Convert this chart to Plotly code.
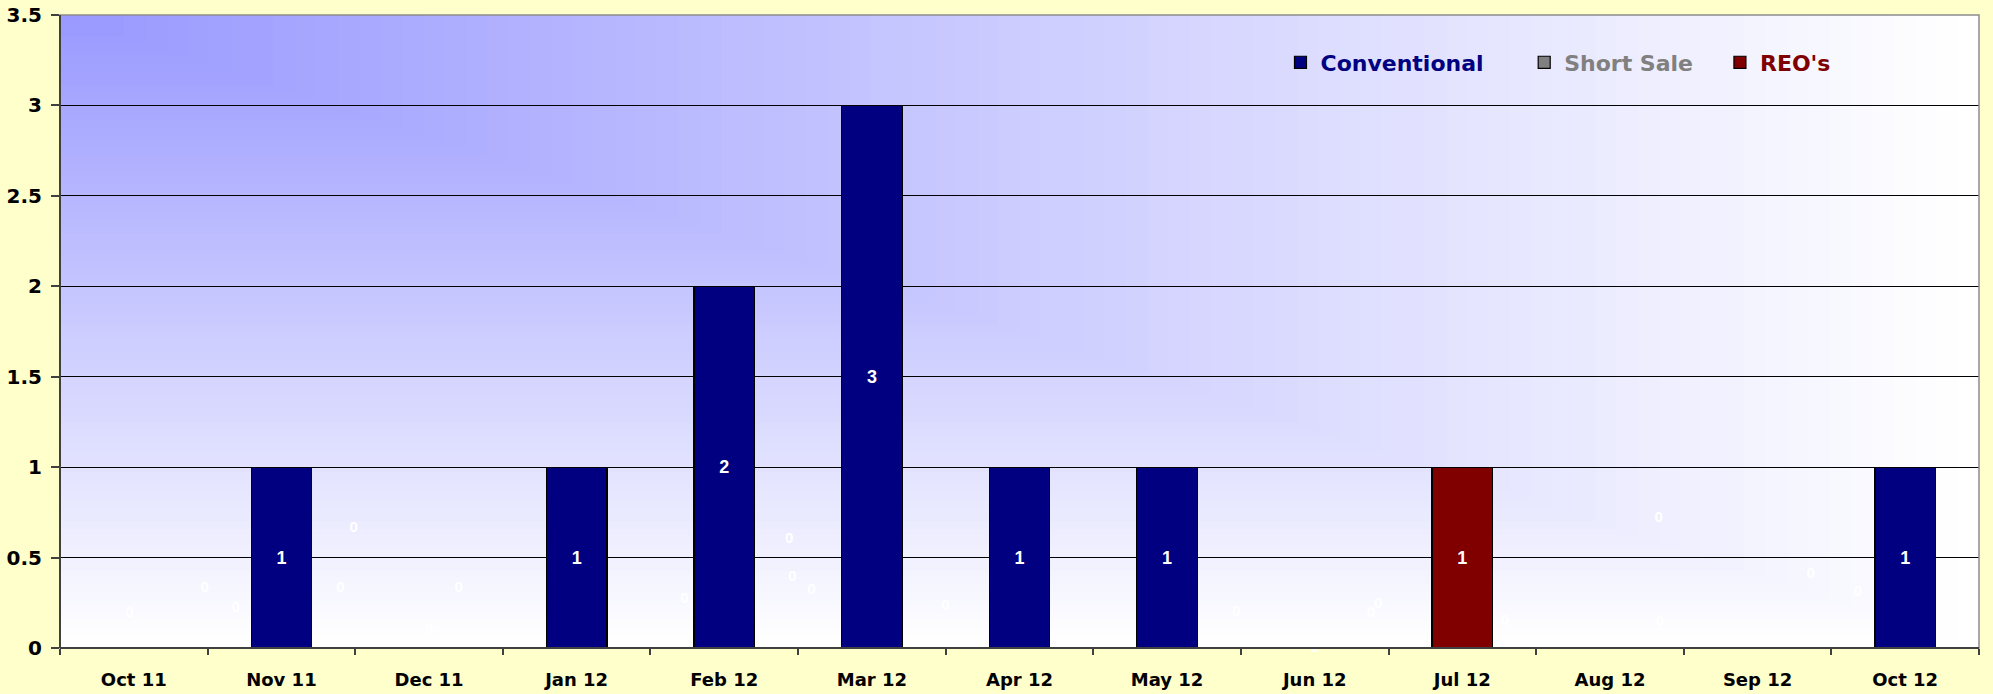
import plotly.graph_objects as go

# ---------------- data ----------------
months = ["Oct 11", "Nov 11", "Dec 11", "Jan 12", "Feb 12", "Mar 12", "Apr 12",
          "May 12", "Jun 12", "Jul 12", "Aug 12", "Sep 12", "Oct 12"]
conventional = [0, 1, 0, 1, 2, 3, 1, 1, 0, 0, 0, 0, 1]
short_sale = [0, 0, 0, 0, 0, 0, 0, 0, 0, 0, 0, 0, 0]
reos = [0, 0, 0, 0, 0, 0, 0, 0, 0, 1, 0, 0, 0]

# stray "0" data labels scattered by the original spreadsheet (category units, value units)
zero_label_x = [-0.03, 0.48, 0.69, 1.49, 1.40, 2.20, 2.00, 2.62, 3.73, 4.44, 4.46, 4.59,
                5.50, 5.43, 6.44, 7.47, 7.54, 8.00, 8.38, 8.43, 9.29, 10.33, 10.34,
                10.69, 11.36, 11.68, 12.34]
zero_label_y = [0.19, 0.33, 0.22, 0.66, 0.33, 0.33, 0.10, -0.18, 0.27, 0.60, 0.39, 0.32,
                0.23, -0.18, -0.18, 0.20, -0.18, 0.00, 0.19, 0.24, 0.15, 0.72, 0.14,
                -0.18, 0.41, 0.31, 0.24]

y_ticks = [0, 0.5, 1, 1.5, 2, 2.5, 3, 3.5]
y_tick_text = ["0", "0.5", "1", "1.5", "2", "2.5", "3", "3.5"]

NAVY = "#000080"
GRAY = "#808080"
MAROON = "#800000"

x_idx = list(range(len(months)))


def labels(vals):
    return [str(v) if v else "" for v in vals]


fig = go.Figure()

series = [("Conventional", conventional, NAVY, "legend", 0.636),
          ("Short Sale", short_sale, GRAY, "legend2", 0.763),
          ("REO's", reos, MAROON, "legend3", 0.865)]
legend_layouts = {}
for name, vals, col, lg, lx in series:
    fig.add_trace(go.Bar(
        x=x_idx, y=vals, width=0.41,
        name=name, legend=lg,
        marker=dict(color=col, line=dict(color="#000000", width=1.2)),
        text=labels(vals), textposition="inside", insidetextanchor="middle",
        textangle=0,
        textfont=dict(family="Liberation Sans, Arial, sans-serif", size=18,
                      color="#FFFFFF", weight="bold"),
        hoverinfo="x+y",
    ))
    legend_layouts[lg] = dict(
        orientation="h", x=lx, y=0.925, xanchor="left", yanchor="middle",
        bgcolor="rgba(0,0,0,0)",
        font=dict(family="DejaVu Sans, sans-serif", size=22, weight="bold", color=col),
        itemclick=False, itemdoubleclick=False)

fig.add_trace(go.Scatter(
    x=zero_label_x, y=zero_label_y, mode="text", text=["0"] * len(zero_label_x),
    textfont=dict(family="Liberation Sans, Arial, sans-serif", size=15,
                  color="#FFFFFF", weight="bold"),
    showlegend=False, cliponaxis=False, hoverinfo="skip",
))

# ---------- corner gradient background (rectangular "from corner" fill) ----------
shapes = []
N = 90
light = (255, 255, 255)
dark = (152, 152, 255)
for i in range(N):
    s = 1 - i / N
    d = 1 - s
    c = tuple(round(light[k] + (dark[k] - light[k]) * d) for k in range(3))
    shapes.append(dict(type="rect", xref="paper", yref="paper",
                       x0=0, x1=s, y0=1 - s, y1=1, layer="below",
                       line=dict(width=0), fillcolor=f"rgb{c}"))
# plot area border (top / right gray)
shapes.append(dict(type="rect", xref="paper", yref="paper", x0=0, x1=1, y0=0, y1=1,
                   layer="above", line=dict(color="#8C8C8C", width=1.5),
                   fillcolor="rgba(0,0,0,0)"))
# darker left / bottom axes
shapes.append(dict(type="line", xref="paper", yref="paper", x0=0, x1=0, y0=0, y1=1,
                   layer="above", line=dict(color="#404040", width=2)))
shapes.append(dict(type="line", xref="paper", yref="paper", x0=0, x1=1, y0=0, y1=0,
                   layer="above", line=dict(color="#404040", width=2)))

fig.update_layout(
    width=1993, height=694,
    margin=dict(l=60, r=14, t=15, b=46),
    paper_bgcolor="#FFFFCC",
    plot_bgcolor="#FFFFFF",
    barmode="stack",
    shapes=shapes,
    showlegend=True,
    **legend_layouts,
    xaxis=dict(
        range=[-0.5, 12.5], tickmode="array", tickvals=x_idx, ticktext=months,
        ticks="", showgrid=False, zeroline=False, showline=False,
        automargin=False,
        tickfont=dict(family="DejaVu Sans, sans-serif", size=18, color="#000000",
                      weight="bold"),
        ticklabelstandoff=19,
        minor=dict(tickmode="array",
                   tickvals=[i + 0.5 for i in range(-1, len(months))],
                   ticks="outside", ticklen=6, tickcolor="#404040", tickwidth=1.5,
                   showgrid=False),
        fixedrange=True,
    ),
    yaxis=dict(
        range=[0, 3.5], tickmode="array", tickvals=y_ticks, ticktext=y_tick_text,
        ticks="outside", ticklen=8, tickcolor="#404040", tickwidth=1.5,
        showgrid=True, gridcolor="#000000", gridwidth=1,
        zeroline=False, showline=False, automargin=False,
        tickfont=dict(family="DejaVu Sans, sans-serif", size=20, color="#000000",
                      weight="bold"),
        ticklabelstandoff=5,
        fixedrange=True,
    ),
)

fig.write_html(
    "out.html",
    config={"displayModeBar": False},
    post_script="document.body.style.margin='0';document.body.style.overflow='hidden';",
)
